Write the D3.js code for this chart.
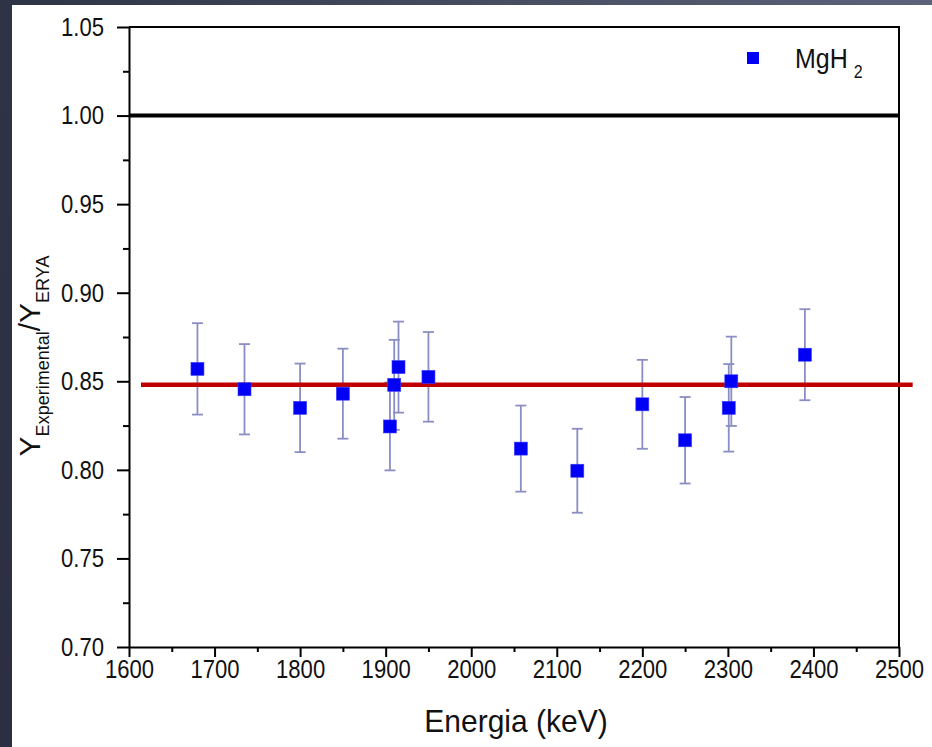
<!DOCTYPE html>
<html>
<head>
<meta charset="utf-8">
<script src="https://cdn.jsdelivr.net/npm/d3@7"></script>
<style>
  html, body { margin: 0; padding: 0; background: #fff; }
  svg text { font-family: "Liberation Sans", Arial, sans-serif; fill: #111; }
</style>
</head>
<body>
<div id="chart"></div>
<script>
// energies (keV), measured ratio and its error
const energies = [1680, 1735, 1800, 1850, 1905, 1910, 1915, 1950, 2058, 2124, 2200, 2250, 2301, 2304, 2390];
const ratios = [0.857, 0.8455, 0.835, 0.843, 0.8245, 0.848, 0.858, 0.8525, 0.812, 0.7995, 0.837, 0.8167, 0.835, 0.850, 0.865];
const errors = [0.0258, 0.0255, 0.025, 0.0254, 0.0248, 0.0254, 0.0257, 0.0253, 0.0243, 0.0237, 0.0251, 0.0244, 0.0247, 0.0252, 0.0257];

const xTicks = [1600, 1700, 1800, 1900, 2000, 2100, 2200, 2300, 2400, 2500];
const yTicks = [0.70, 0.75, 0.80, 0.85, 0.90, 0.95, 1.00, 1.05];
const referenceLine = 1.00;    // ideal ratio
const meanLine = 0.848;        // average ratio
const meanLineSpan = [1614, 2516];

const W = 932, H = 747;
const margin = { top: 27, right: 33, bottom: 100, left: 129 };

const svg = d3.select("#chart").append("svg")
  .attr("width", W).attr("height", H);

// dark slide border (left and top)
const defs = svg.append("defs");
const grad = defs.append("linearGradient").attr("id", "bg")
  .attr("x1", "0").attr("y1", "1").attr("x2", "1").attr("y2", "0");
grad.append("stop").attr("offset", "0").attr("stop-color", "#2b2f41");
grad.append("stop").attr("offset", "0.5").attr("stop-color", "#2f3346");
grad.append("stop").attr("offset", "1").attr("stop-color", "#5d6379");
svg.append("rect").attr("width", W).attr("height", H).attr("fill", "url(#bg)");
svg.append("rect").attr("x", 12).attr("y", 5).attr("width", W - 12).attr("height", H - 5).attr("fill", "#fff");

const x = d3.scaleLinear().domain([1600, 2500]).range([margin.left, W - margin.right]);
const y = d3.scaleLinear().domain([0.70, 1.05]).range([H - margin.bottom, margin.top]);

// minor ticks first
svg.append("g")
  .attr("transform", `translate(0,${y(0.70)})`)
  .call(d3.axisBottom(x).tickValues(d3.range(1650, 2500, 100)).tickSize(5).tickFormat(""))
  .call(g => g.select(".domain").remove())
  .selectAll("line").attr("stroke", "#000").attr("stroke-width", 2);

svg.append("g")
  .attr("transform", `translate(${x(1600)},0)`)
  .call(d3.axisLeft(y).tickValues(d3.range(0.725, 1.05, 0.05)).tickSize(6).tickFormat(""))
  .call(g => g.select(".domain").remove())
  .selectAll("line").attr("stroke", "#000").attr("stroke-width", 2);

// major axes
const xAxis = svg.append("g")
  .attr("transform", `translate(0,${y(0.70)})`)
  .call(d3.axisBottom(x).tickValues(xTicks).tickSize(10).tickSizeOuter(0).tickFormat(d3.format("d")));
// labels are tall and narrow in the original
xAxis.selectAll("text")
  .attr("y", null)
  .attr("transform", "translate(0,13) scale(0.85,1)")
  .style("font-size", "26px");

const yAxis = svg.append("g")
  .attr("transform", `translate(${x(1600)},0)`)
  .call(d3.axisLeft(y).tickValues(yTicks).tickSize(12).tickSizeOuter(0).tickFormat(d3.format(".2f")));
yAxis.selectAll("text")
  .attr("x", null)
  .attr("transform", "translate(-25,0) scale(0.85,1)")
  .style("font-size", "26px");

svg.selectAll(".domain").attr("stroke", "#000").attr("stroke-width", 2);
svg.selectAll(".tick line").attr("stroke", "#000").attr("stroke-width", 2);

// top and right frame
svg.append("path")
  .attr("d", `M${x(1600)},${y(1.05)}H${x(2500)}V${y(0.70)}`)
  .attr("fill", "none").attr("stroke", "#000").attr("stroke-width", 2);

// reference line at 1.00
svg.append("line")
  .attr("x1", x(1600)).attr("x2", x(2500))
  .attr("y1", y(referenceLine)).attr("y2", y(referenceLine))
  .attr("stroke", "#000").attr("stroke-width", 4);

const points = energies.map((e, i) => ({ e, r: ratios[i], err: errors[i] }));

// error bars
const eb = svg.append("g").attr("stroke", "#8a8ec2").attr("stroke-width", 1.8);
eb.selectAll(".v").data(points).join("line")
  .attr("x1", d => x(d.e)).attr("x2", d => x(d.e))
  .attr("y1", d => y(d.r + d.err)).attr("y2", d => y(d.r - d.err));
eb.selectAll(".ct").data(points).join("line").attr("class", "ct")
  .attr("x1", d => x(d.e) - 5.5).attr("x2", d => x(d.e) + 5.5)
  .attr("y1", d => y(d.r + d.err)).attr("y2", d => y(d.r + d.err));
eb.selectAll(".cb").data(points).join("line").attr("class", "cb")
  .attr("x1", d => x(d.e) - 5.5).attr("x2", d => x(d.e) + 5.5)
  .attr("y1", d => y(d.r - d.err)).attr("y2", d => y(d.r - d.err));

// mean line
svg.append("line")
  .attr("x1", x(meanLineSpan[0])).attr("x2", x(meanLineSpan[1]))
  .attr("y1", y(meanLine)).attr("y2", y(meanLine))
  .attr("stroke", "#c00000").attr("stroke-width", 4.5);

// markers
svg.append("g").selectAll("rect").data(points).join("rect")
  .attr("x", d => x(d.e) - 6.5).attr("y", d => y(d.r) - 6.5)
  .attr("width", 13).attr("height", 13)
  .attr("fill", "#0000f5").attr("stroke", "#3a3aff").attr("stroke-width", 0.6);

// legend
svg.append("rect").attr("x", 747).attr("y", 52).attr("width", 12).attr("height", 12).attr("fill", "#0000f5");
const lg = svg.append("text").attr("transform", "translate(795,68) scale(1,1.1)").style("font-size", "25px");
lg.append("tspan").text("MgH");
lg.append("tspan").attr("dx", 6).attr("dy", 9).style("font-size", "16px").text("2");

// axis titles
svg.append("text")
  .attr("transform", "translate(516,732) scale(1,1.05)")
  .attr("text-anchor", "middle")
  .style("font-size", "30px")
  .text("Energia (keV)");

const yt = svg.append("text")
  .attr("transform", "translate(40,356) rotate(-90)")
  .attr("text-anchor", "middle")
  .style("font-size", "30px");
yt.append("tspan").text("Y");
yt.append("tspan").attr("dy", 9).style("font-size", "18px").text("Experimental");
yt.append("tspan").attr("dy", -9).text("/Y");
yt.append("tspan").attr("dy", 9).style("font-size", "18px").text("ERYA");
</script>
</body>
</html>
